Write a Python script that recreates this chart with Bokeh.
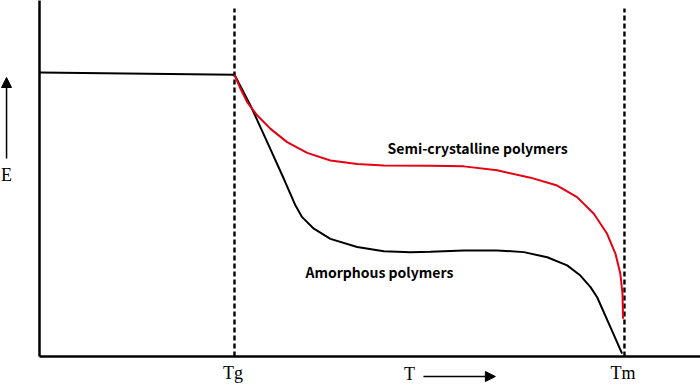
from bokeh.plotting import figure
from bokeh.models import Range1d, Arrow, NormalHead
from bokeh.core.properties import value
from bokeh.embed import file_html
from bokeh.resources import INLINE

# Schematic modulus (E) vs temperature (T); Tg = 1, Tm = 3 (arbitrary units)
T_amorphous = [0.0, 1.0, 1.082, 1.168, 1.253, 1.313, 1.347, 1.407, 1.492, 1.629,
               1.766, 1.903, 2.005, 2.176, 2.347, 2.484, 2.604, 2.706, 2.774,
               2.826, 2.860, 2.928, 2.988]
E_amorphous = [10.07, 9.99, 8.90, 7.60, 6.30, 5.35, 4.94, 4.53, 4.17, 3.88,
               3.73, 3.70, 3.71, 3.76, 3.76, 3.70, 3.52, 3.23, 2.87,
               2.46, 2.10, 1.04, 0.10]

T_semi = [1.0, 1.031, 1.065, 1.116, 1.185, 1.270, 1.373, 1.492, 1.629, 1.766,
          2.005, 2.176, 2.347, 2.518, 2.655, 2.757, 2.843, 2.911, 2.954, 2.979,
          2.990, 2.993]
E_semi = [9.99, 9.49, 9.02, 8.55, 8.07, 7.60, 7.22, 6.95, 6.82, 6.77,
          6.76, 6.74, 6.60, 6.34, 6.06, 5.65, 5.06, 4.35, 3.64, 2.93,
          2.22, 1.34]

tick_positions = [1.0, 3.0]
tick_labels = ["Tg", "Tm"]
series_labels = ["Semi-crystalline polymers", "Amorphous polymers"]
axis_labels = ["E", "T"]

X0, X1 = -0.2, 3.39
Y0, Y1 = -1.028, 12.62
GUIDE_TOP = 12.34

p = figure(width=700, height=385, output_backend="svg", toolbar_location=None,
           x_axis_type=None, y_axis_type=None, min_border=0,
           x_range=Range1d(X0, X1), y_range=Range1d(Y0, Y1))
p.outline_line_color = None
p.grid.visible = False
p.background_fill_color = "white"
p.border_fill_color = "white"

# axes
p.segment(x0=[0, 0], y0=[0, 0], x1=[0, X1], y1=[Y1 + 1, 0],
          line_color="black", line_width=2.5)

# Tg / Tm dashed guides
p.segment(x0=tick_positions, y0=[0, 0], x1=tick_positions, y1=[GUIDE_TOP, GUIDE_TOP],
          line_color="black", line_width=2.4, line_dash="5 3")

# curves
p.line(T_amorphous, E_amorphous, line_color="black", line_width=2)
p.line(T_semi, E_semi, line_color="#e60012", line_width=2)

# curve labels
p.text(x=[1.785, 1.364], y=[7.38, 2.98], text=series_labels,
       text_font=value("Noto Sans CJK SC"), text_font_style="bold",
       text_font_size="14px", text_baseline="middle", text_align="left",
       text_color="black")

# tick labels
p.text(x=[t - 0.008 for t in tick_positions], y=[-0.57, -0.57], text=tick_labels,
       text_font=value("Liberation Serif"), text_font_size="18px",
       text_baseline="middle", text_align="center", text_color="black")

# axis labels with arrows
p.text(x=[-0.169, 1.897], y=[6.45, -0.62], text=axis_labels,
       text_font=value("Liberation Serif"), text_font_size="18px",
       text_baseline="middle", text_align="center", text_color="black")
p.add_layout(Arrow(end=NormalHead(size=10, fill_color="black", line_color="black"),
                   x_start=-0.169, y_start=7.02, x_end=-0.169, y_end=9.89,
                   line_color="black", line_width=1.5))
p.add_layout(Arrow(end=NormalHead(size=10, fill_color="black", line_color="black"),
                   x_start=1.969, y_start=-0.709, x_end=2.338, y_end=-0.709,
                   line_color="black", line_width=1.5))

open("out.html", "w").write(file_html(p, INLINE))
